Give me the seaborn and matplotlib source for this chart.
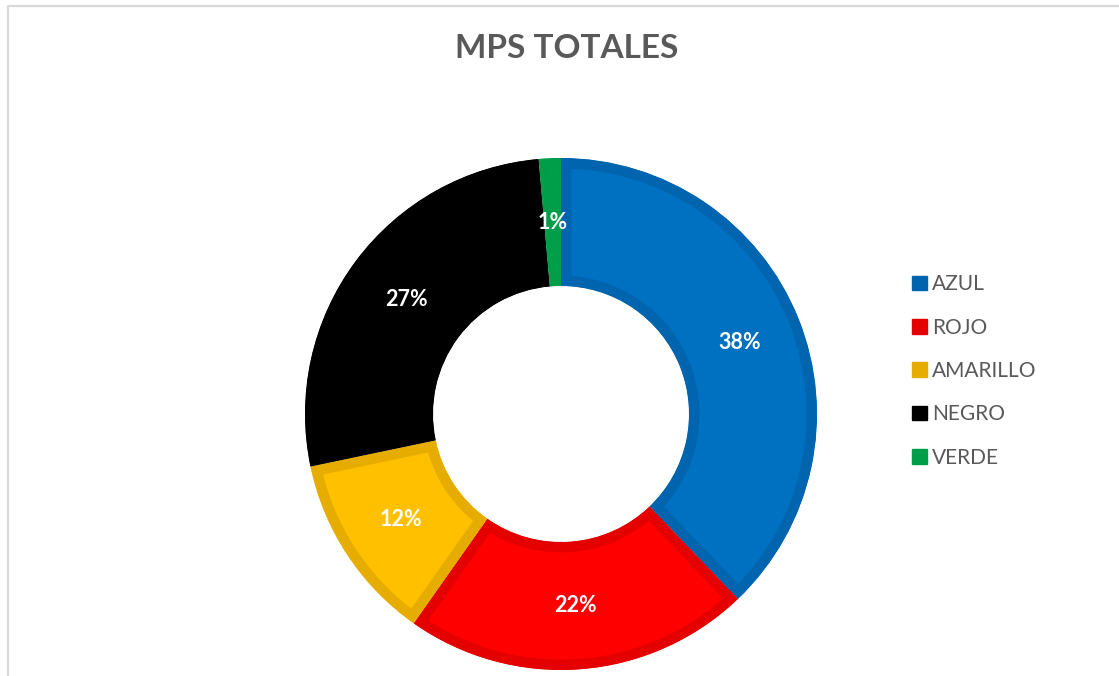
import matplotlib
matplotlib.use("Agg")
import matplotlib.pyplot as plt
import seaborn as sns
import numpy as np
from matplotlib.patches import Patch, Wedge
from matplotlib.lines import Line2D

categories = ["AZUL", "ROJO", "AMARILLO", "NEGRO", "VERDE"]
values = [38, 22, 12, 27, 1.4]
pct_labels = ["38%", "22%", "12%", "27%", "1%"]
fill_colors = ["#0070C0", "#FF0000", "#FFC000", "#000000", "#00B050"]
edge_colors = ["#0064AE", "#E50000", "#E6AD00", "#000000", "#009E48"]
title = "MPS TOTALES"

sns.set_theme(style="white")
plt.rcParams["font.family"] = ["Lato", "DejaVu Sans"]

fig = plt.figure(figsize=(11.19, 6.76), dpi=100)
fig.patch.set_facecolor("white")

cx, cy, R = 561, 414, 256
ax = fig.add_axes([(cx - R) / 1119, 1 - (cy + R) / 676, 2 * R / 1119, 2 * R / 676])
wedges, texts = ax.pie(values, colors=fill_colors, startangle=90, counterclock=False,
                       radius=1.0, wedgeprops=dict(width=0.5, linewidth=15))
for w, ec in zip(wedges, edge_colors):
    w.set_edgecolor(ec)
    clip = Wedge(w.center, w.r, w.theta1, w.theta2, width=w.width,
                 transform=ax.transData)
    w.set_clip_path(clip)
    w.set_clip_on(True)
ax.set_xlim(-1, 1)
ax.set_ylim(-1, 1)
ax.set_aspect("equal")
ax.axis("off")

# percentage labels at mid-ring
for w, lab in zip(wedges, pct_labels):
    ang = np.deg2rad((w.theta1 + w.theta2) / 2)
    r = 0.75
    ax.text(r * np.cos(ang), r * np.sin(ang), lab, color="white", fontsize=15.5,
            fontweight="bold", ha="center", va="center")

fig.text(567 / 1119, 1 - 49 / 676, title, ha="center", va="center",
         fontsize=24, fontweight="bold", color="#595959")

handles = [Patch(facecolor=c, edgecolor=c) for c in edge_colors]
leg = fig.legend(handles, categories, loc="center left",
                 bbox_to_anchor=(893 / 1119, 1 - 371 / 676), frameon=False,
                 fontsize=15, labelcolor="#595959", handlelength=0.72,
                 handleheight=0.72, handletextpad=0.24, labelspacing=1.12)

# chart frame lines (top and left)
fig.add_artist(Line2D([7.5 / 1119, 7.5 / 1119], [0, 1 - 5.5 / 676],
                      transform=fig.transFigure, color="#D9D9D9", linewidth=1.6))
fig.add_artist(Line2D([7.5 / 1119, 1], [1 - 5.5 / 676, 1 - 5.5 / 676],
                      transform=fig.transFigure, color="#D9D9D9", linewidth=1.6))

fig.savefig("out.png", dpi=100, facecolor="white")
